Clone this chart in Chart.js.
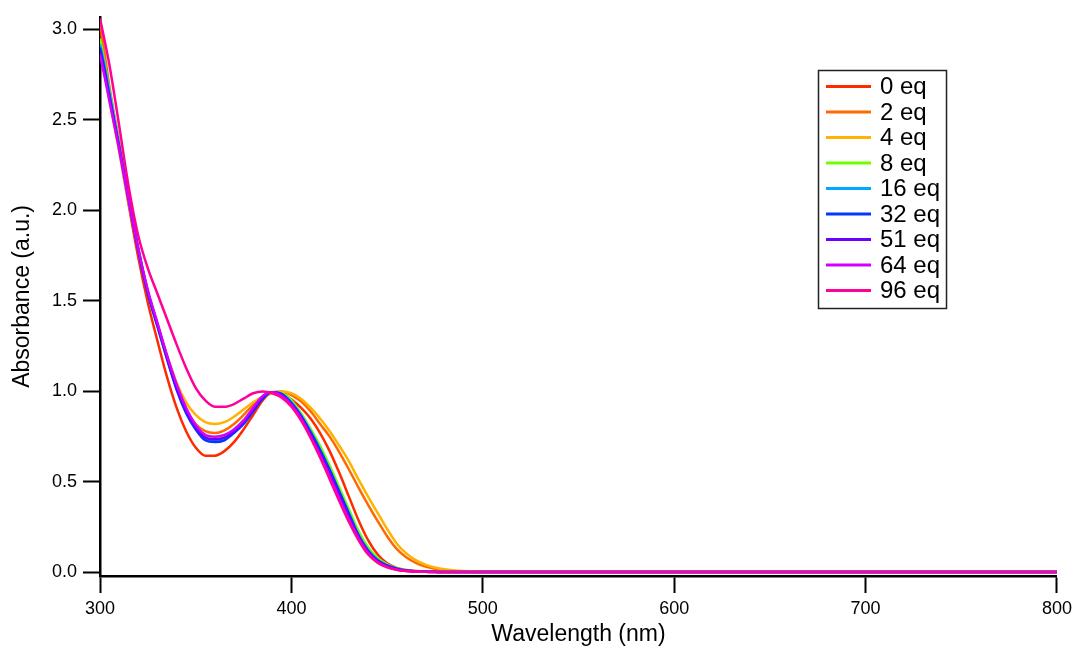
<!DOCTYPE html>
<html>
<head>
<meta charset="utf-8">
<script src="https://cdn.jsdelivr.net/npm/chart.js@4/dist/chart.umd.min.js"></script>
<style>
  html, body { margin: 0; padding: 0; background: #fff; }
  #wrap { width: 1077px; height: 648px; position: relative; }
</style>
</head>
<body>
<div id="wrap"><canvas id="myChart"></canvas></div>
<script>
// wavelength grid (nm)
const wavelengths = [300, 302, 305, 310, 315, 320, 325, 330, 335, 340, 345, 350, 355, 360, 365, 370,
    375, 380, 385, 390, 395, 400, 405, 410, 415, 420, 425, 430, 435, 440, 445, 450, 455, 460, 465,
    470, 475, 480, 490, 500, 550, 600, 650, 700, 750, 800];

const seriesNames = ['0 eq', '2 eq', '4 eq', '8 eq', '16 eq', '32 eq', '51 eq', '64 eq', '96 eq'];
const seriesColors = ['#ff2a00', '#ff6a00', '#ffb300', '#70ff00', '#00a8ff', '#0038ff', '#6a00ff', '#d400ff', '#ff0098'];

// normalised absorbance, one array per titration point
const abs0 = [3.02, 2.86, 2.63, 2.33, 2.03, 1.74, 1.49, 1.28, 1.08, 0.91, 0.78, 0.69, 0.645, 0.645, 0.67, 0.72,
    0.79, 0.87, 0.95, 0.995, 0.99, 0.955, 0.91, 0.85, 0.77, 0.67, 0.55, 0.42, 0.29, 0.18, 0.10, 0.05, 0.025, 0.013, 0.007,
    0.004, 0.003, 0.002, 0.002, 0.002, 0.002, 0.002, 0.002, 0.002, 0.002, 0.002];
const abs2 = [3.06, 2.9, 2.68, 2.38, 2.08, 1.79, 1.55, 1.36, 1.18, 1.02, 0.90, 0.82, 0.78, 0.77, 0.785, 0.82,
    0.87, 0.925, 0.97, 0.995, 1.0, 0.98, 0.945, 0.89, 0.82, 0.75, 0.665, 0.57, 0.47, 0.375, 0.285, 0.20, 0.13, 0.083, 0.052,
    0.032, 0.02, 0.012, 0.005, 0.003, 0.002, 0.002, 0.002, 0.002, 0.002, 0.002];
const abs4 = [2.9, 2.78, 2.6, 2.33, 2.05, 1.78, 1.55, 1.37, 1.2, 1.05, 0.94, 0.87, 0.83, 0.82, 0.83, 0.86,
    0.9, 0.94, 0.97, 0.99, 1.0, 0.99, 0.96, 0.91, 0.85, 0.78, 0.70, 0.615, 0.515, 0.42, 0.33, 0.24, 0.16, 0.105, 0.068,
    0.043, 0.027, 0.017, 0.007, 0.003, 0.002, 0.002, 0.002, 0.002, 0.002, 0.002];
const abs8 = [2.95, 2.84, 2.66, 2.37, 2.07, 1.79, 1.55, 1.37, 1.19, 1.03, 0.9, 0.81, 0.755, 0.745, 0.755, 0.79,
    0.84, 0.905, 0.97, 0.995, 0.99, 0.95, 0.88, 0.795, 0.70, 0.59, 0.47, 0.35, 0.23, 0.14, 0.08, 0.045, 0.023, 0.012, 0.007,
    0.004, 0.003, 0.002, 0.002, 0.002, 0.002, 0.002, 0.002, 0.002, 0.002, 0.002];
const abs16 = [2.92, 2.82, 2.65, 2.36, 2.07, 1.79, 1.55, 1.37, 1.19, 1.02, 0.89, 0.80, 0.74, 0.73, 0.74, 0.775,
    0.825, 0.895, 0.965, 0.995, 0.985, 0.94, 0.87, 0.78, 0.68, 0.57, 0.45, 0.33, 0.21, 0.125, 0.07, 0.04, 0.021, 0.011, 0.006,
    0.004, 0.003, 0.002, 0.002, 0.002, 0.002, 0.002, 0.002, 0.002, 0.002, 0.002];
const abs32 = [2.9, 2.8, 2.63, 2.35, 2.06, 1.78, 1.54, 1.36, 1.18, 1.01, 0.88, 0.79, 0.73, 0.72, 0.73, 0.77,
    0.82, 0.89, 0.96, 0.995, 0.985, 0.935, 0.865, 0.775, 0.675, 0.565, 0.445, 0.325, 0.205, 0.12, 0.067, 0.038, 0.02, 0.01, 0.006,
    0.004, 0.003, 0.002, 0.002, 0.002, 0.002, 0.002, 0.002, 0.002, 0.002, 0.002];
const abs51 = [2.88, 2.78, 2.62, 2.35, 2.06, 1.78, 1.55, 1.37, 1.19, 1.02, 0.89, 0.8, 0.745, 0.735, 0.745, 0.78,
    0.83, 0.9, 0.97, 0.995, 0.98, 0.93, 0.86, 0.765, 0.66, 0.55, 0.43, 0.31, 0.2, 0.115, 0.063, 0.034, 0.017, 0.009, 0.005,
    0.003, 0.002, 0.002, 0.002, 0.002, 0.002, 0.002, 0.002, 0.002, 0.002, 0.002];
const abs64 = [2.86, 2.76, 2.6, 2.34, 2.06, 1.79, 1.56, 1.38, 1.2, 1.04, 0.91, 0.815, 0.76, 0.75, 0.76, 0.79,
    0.84, 0.91, 0.975, 0.995, 0.975, 0.925, 0.85, 0.75, 0.645, 0.53, 0.41, 0.295, 0.19, 0.108, 0.058, 0.03, 0.015, 0.008, 0.005,
    0.003, 0.002, 0.002, 0.002, 0.002, 0.002, 0.002, 0.002, 0.002, 0.002, 0.002];
const abs96 = [3.06, 2.96, 2.8, 2.47, 2.13, 1.86, 1.68, 1.54, 1.40, 1.26, 1.13, 1.02, 0.95, 0.915, 0.915, 0.93,
    0.96, 0.99, 1.0, 0.99, 0.965, 0.915, 0.84, 0.745, 0.635, 0.515, 0.395, 0.28, 0.18, 0.1, 0.054, 0.028, 0.014, 0.007, 0.004,
    0.003, 0.002, 0.002, 0.002, 0.002, 0.002, 0.002, 0.002, 0.002, 0.002, 0.002];

const allSeries = [abs0, abs2, abs4, abs8, abs16, abs32, abs51, abs64, abs96];

const FONT = "'Liberation Sans', Arial, sans-serif";
Chart.defaults.font.family = FONT;
Chart.defaults.color = '#000';

// boxed legend inside the plot, top right
const legendBox = {
    id: 'legendBox',
    afterDraw(chart) {
        const ctx = chart.ctx;
        ctx.save();
        ctx.strokeStyle = '#222';
        ctx.lineWidth = 1.5;
        ctx.strokeRect(818.5, 70.5, 128, 238);
        ctx.font = '24px ' + FONT;
        ctx.textBaseline = 'middle';
        chart.data.datasets.forEach((ds, i) => {
            const y = 86.5 + i * 25.5;
            ctx.strokeStyle = ds.borderColor;
            ctx.lineWidth = 3;
            ctx.beginPath();
            ctx.moveTo(826, y);
            ctx.lineTo(871, y);
            ctx.stroke();
            ctx.fillStyle = '#000';
            ctx.fillText(ds.label, 880, y + 1);
        });
        ctx.restore();
    }
};

const datasets = allSeries.map((vals, i) => ({
    label: seriesNames[i],
    data: wavelengths.map((w, j) => ({ x: w, y: vals[j] })),
    borderColor: seriesColors[i],
    borderWidth: 2.5,
    pointRadius: 0,
    cubicInterpolationMode: 'monotone',
    order: allSeries.length - i,
}));

const config = {
    type: 'line',
    data: { datasets: datasets },
    options: {
        responsive: true,
        maintainAspectRatio: false,
        animation: false,
        layout: { padding: { top: 14, right: 20, left: 0, bottom: 0 } },
        plugins: {
            legend: { display: false },
            tooltip: { enabled: false }
        },
        scales: {
            x: {
                type: 'linear',
                min: 300,
                max: 800,
                afterFit: (scale) => { scale.height = 72; },
                ticks: { stepSize: 100, font: { size: 18 }, padding: 5 },
                grid: { drawOnChartArea: false, tickLength: 17, tickWidth: 2, tickColor: '#000' },
                border: { color: '#000', width: 2.5 },
                title: { display: true, text: 'Wavelength (nm)', font: { size: 23 }, padding: 0 }
            },
            y: {
                min: -0.02,
                max: 3.07,
                afterFit: (scale) => { scale.width = 100; },
                ticks: {
                    stepSize: 0.5,
                    includeBounds: false,
                    font: { size: 18 },
                    padding: 6,
                    callback: (v) => v.toFixed(1)
                },
                grid: { drawOnChartArea: false, tickLength: 17, tickWidth: 2, tickColor: '#000' },
                border: { color: '#000', width: 2.5 },
                title: { display: true, text: 'Absorbance (a.u.)', font: { size: 23 }, padding: { top: 9, bottom: 0 } }
            }
        }
    },
    plugins: [legendBox]
};

var myChart = new Chart(document.getElementById('myChart'), config);
</script>
</body>
</html>
